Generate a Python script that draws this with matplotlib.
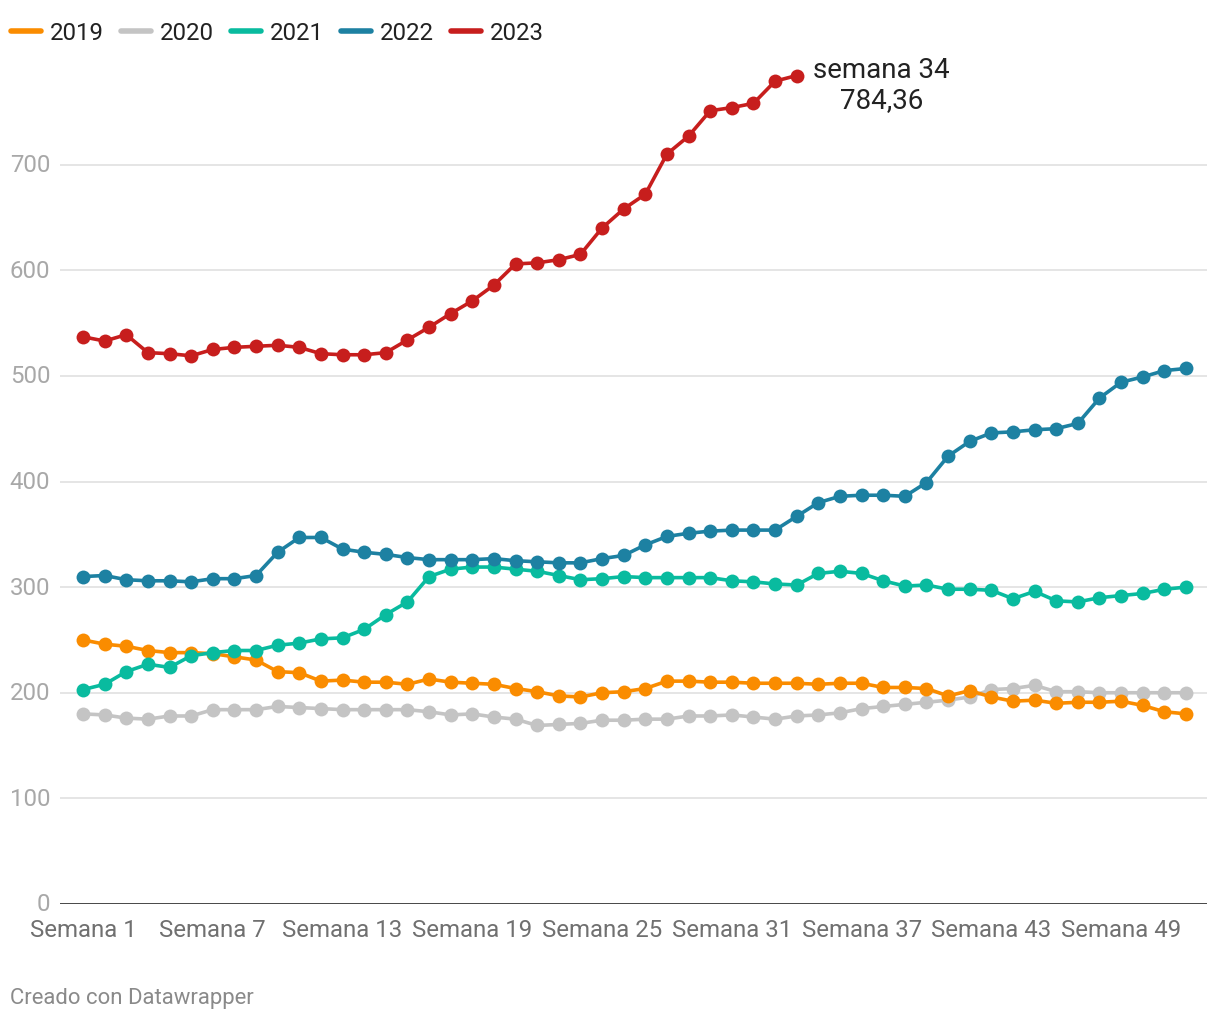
import matplotlib.pyplot as plt
from matplotlib.lines import Line2D
import numpy as np

plt.rcParams['font.family'] = ['Roboto', 'DejaVu Sans']

years = ['2019', '2020', '2021', '2022', '2023']
colors = ['#fa8c00', '#c4c4c4', '#09bb9f', '#1d81a2', '#c71e1d']
zorders = [4, 3, 5, 6, 7]

v2019 = [250, 246, 244, 240, 238, 238, 237, 234, 231, 220,
         219, 211, 212, 210, 210, 208, 213, 210, 209, 208,
         204, 201, 197, 196, 200, 201, 204, 211, 211, 210,
         210, 209, 209, 209, 208, 209, 209, 205, 205, 204,
         197, 202, 196, 192, 193, 190, 191, 191, 192, 188, 182, 180]
v2020 = [180, 179, 176, 175, 178, 178, 184, 184, 184, 187,
         186, 185, 184, 184, 184, 184, 182, 179, 180, 177,
         175, 169, 170, 171, 174, 174, 175, 175, 178, 178,
         179, 177, 175, 178, 179, 181, 185, 187, 189, 191,
         193, 196, 203, 204, 207, 201, 201, 200, 200, 200, 200, 200]
v2021 = [203, 208, 220, 227, 224, 235, 238, 240, 240, 245,
         247, 251, 252, 260, 274, 286, 310, 317, 319, 319,
         317, 315, 311, 307, 308, 310, 309, 309, 309, 309,
         306, 305, 303, 302, 313, 315, 313, 306, 301, 302,
         298, 298, 297, 289, 296, 287, 286, 290, 292, 294, 298, 300]
v2022 = [310, 311, 307, 306, 306, 305, 308, 308, 311, 333,
         347, 347, 336, 333, 331, 328, 326, 326, 326, 327,
         325, 324, 323, 323, 327, 330, 340, 348, 351, 353,
         354, 354, 354, 367, 380, 386, 387, 387, 386, 399,
         424, 438, 446, 447, 449, 450, 455, 479, 494, 499, 505, 507]
v2023 = [537, 533, 539, 522, 521, 519, 525, 527, 528, 529,
         527, 521, 520, 520, 522, 534, 546, 559, 571, 586,
         606, 607, 610, 615, 640, 658, 672, 710, 727, 751,
         754, 758, 779, 784.36]
series = [v2019, v2020, v2021, v2022, v2023]

xtick_weeks = [1, 7, 13, 19, 25, 31, 37, 43, 49]
yticks = [0, 100, 200, 300, 400, 500, 600, 700]

fig = plt.figure(figsize=(12.2, 10.2), dpi=100)
ax = fig.add_axes([60 / 1220, 115 / 1020, 1147 / 1220, 845 / 1020])

for vals, c, z in zip(series, colors, zorders):
    weeks = np.arange(1, len(vals) + 1)
    ax.plot(weeks, vals, color=c, lw=2.6, marker='o', ms=10,
            markeredgewidth=0, zorder=z, solid_capstyle='round')

# end label for 2023
last = v2023[-1]
ax.annotate(f"semana {len(v2023)}\n{last:.2f}".replace('.', ','),
            xy=(len(v2023), last), xytext=(85, -9), textcoords='offset pixels',
            ha='center', va='center', multialignment='center',
            fontsize=20, color='#222222', linespacing=1.15)

ax.set_xlim(1 - 23 / 21.63, 52 + 21 / 21.63)
ax.set_ylim(0, 800)
ax.set_xticks(xtick_weeks, labels=[f"Semana {w}" for w in xtick_weeks])
ax.set_yticks(yticks, labels=[str(t) for t in yticks])
ax.tick_params(axis='x', length=0, pad=10, labelsize=17.3, labelcolor='#707070')
ax.tick_params(axis='y', length=0, pad=7, labelsize=17.3, labelcolor='#a8a8a8')
for lab in ax.get_yticklabels():
    lab.set_verticalalignment('center')

ax.grid(axis='y', color='#e3e3e3', lw=1.3)
ax.set_axisbelow(True)
for s in ax.spines.values():
    s.set_visible(False)
ax.axhline(0, color='#1a1a1a', lw=1.8, zorder=2)

handles = [Line2D([], [], color=c, lw=4, solid_capstyle='round') for c in colors]
fig.legend(handles, years, loc='center left', bbox_to_anchor=(11 / 1220, 1 - 34 / 1020),
           ncol=5, frameon=False, fontsize=17.3, handlelength=1.25,
           handletextpad=0.38, columnspacing=0.7, labelcolor='#222222',
           borderaxespad=0, borderpad=0)

fig.text(10 / 1220, 1 - 999 / 1020, "Creado con Datawrapper", fontsize=15.9,
         color='#8a8a8a', ha='left', va='center')

fig.savefig('out.png', dpi=100)
